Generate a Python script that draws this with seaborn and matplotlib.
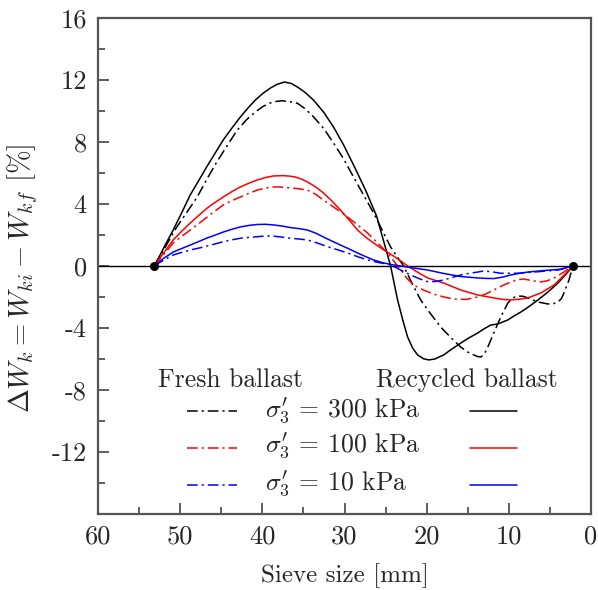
import numpy as np
import pandas as pd
import matplotlib
matplotlib.use("Agg")
import matplotlib.pyplot as plt
import seaborn as sns

# ---------------- data ----------------
rec300_x = [53.17, 52.5, 51.83, 50.85, 49.8, 48.78, 47.7, 46.71, 45.7, 44.76, 43.7, 42.68, 41.7, 40.85,
            39.9, 39.02, 38.2, 37.32, 36.5, 35.73, 34.8, 33.78, 32.5, 31.34, 30.1, 28.90, 27.44, 26.10,
            25.00, 24.39, 23.54, 22.9, 22.32, 21.7, 21.10, 20.4, 19.76, 19.0, 18.4, 17.93, 17.0, 15.85,
            14.8, 13.78, 13.0, 12.20, 11.34, 10.12, 9.3, 8.54, 7.5, 6.46, 5.2, 4.02, 3.0, 2.2]
rec300_y = [0.0, 0.65, 1.35, 2.32, 3.45, 4.58, 5.55, 6.45, 7.32, 8.13, 8.9, 9.61, 10.22, 10.71,
            11.15, 11.48, 11.72, 11.87, 11.78, 11.55, 11.2, 10.71, 9.9, 8.97, 7.8, 6.52, 4.90, 3.23,
            1.16, 0.0, -2.19, -3.5, -4.58, -5.3, -5.74, -5.98, -6.06, -6.0, -5.85, -5.74, -5.38, -4.97,
            -4.62, -4.32, -4.05, -3.81, -3.74, -3.48, -3.2, -2.97, -2.6, -2.19, -1.66, -1.10, -0.5, 0.0]

fre300_x = [53.17, 52.0, 50.49, 49.2, 47.93, 46.8, 45.61, 44.3, 43.05, 41.9, 40.85, 39.9, 39.02, 38.3,
            37.56, 36.6, 35.73, 34.8, 33.78, 32.5, 31.34, 30.1, 28.90, 27.7, 26.46, 25.4, 24.39, 23.6,
            22.80, 21.8, 20.73, 19.5, 18.29, 17.0, 15.85, 15.0, 14.27, 13.8, 13.41, 13.0, 12.56, 11.83,
            10.98, 10.12, 9.5, 8.90, 8.3, 7.68, 6.46, 5.24, 4.5, 4.02, 3.6, 3.29, 2.68, 2.2]
fre300_y = [0.0, 1.05, 2.45, 3.45, 4.45, 5.55, 6.65, 7.75, 8.77, 9.45, 9.94, 10.3, 10.52, 10.62,
            10.66, 10.6, 10.50, 10.15, 9.63, 8.85, 7.94, 6.9, 5.74, 4.6, 3.42, 2.3, 1.23, 0.6,
            0.0, -1.1, -2.19, -3.1, -3.94, -4.65, -5.23, -5.55, -5.74, -5.84, -5.87, -5.7, -5.23, -4.32,
            -3.29, -2.39, -2.05, -1.94, -1.95, -2.06, -2.32, -2.45, -2.42, -2.32, -2.1, -1.74, -0.90, 0.0]

rec100_x = [53.17, 52.0, 50.85, 49.8, 48.78, 47.7, 46.71, 45.7, 44.76, 43.7, 42.68, 41.6, 40.61, 39.6,
            38.66, 37.44, 36.7, 35.98, 35.2, 34.51, 33.5, 32.56, 31.5, 30.49, 29.4, 28.41, 27.4, 26.46,
            25.4, 24.39, 23.3, 22.32, 21.1, 19.88, 17.93, 15.85, 13.78, 11.83, 10.8, 9.76, 8.7, 7.68,
            6.10, 4.51, 3.3, 2.2]
rec100_y = [0.0, 0.85, 1.68, 2.25, 2.77, 3.28, 3.74, 4.12, 4.45, 4.8, 5.10, 5.35, 5.55, 5.71,
            5.81, 5.83, 5.8, 5.74, 5.6, 5.42, 5.1, 4.71, 4.18, 3.61, 2.95, 2.32, 1.85, 1.48,
            1.1, 0.77, 0.38, 0.0, -0.4, -0.77, -1.10, -1.55, -1.87, -2.06, -2.15, -2.19, -2.14, -2.06,
            -1.74, -1.23, -0.6, 0.0]

fre100_x = [53.17, 52.0, 50.85, 49.8, 48.78, 47.7, 46.71, 45.7, 44.76, 43.7, 42.68, 41.6, 40.61, 39.6,
            38.66, 37.9, 37.20, 35.8, 34.51, 33.5, 32.56, 31.1, 29.63, 28.4, 27.20, 26.0, 24.76, 23.9,
            23.17, 22.4, 21.59, 20.4, 19.15, 17.9, 16.71, 15.24, 13.78, 12.8, 11.83, 10.8, 9.76, 8.9,
            8.17, 7.1, 6.10, 5.3, 4.51, 3.29, 2.2]
fre100_y = [0.0, 0.75, 1.48, 1.92, 2.32, 2.75, 3.16, 3.57, 3.94, 4.22, 4.45, 4.7, 4.90, 5.03,
            5.10, 5.1, 5.06, 5.0, 4.90, 4.62, 4.26, 3.72, 3.16, 2.65, 2.13, 1.5, 0.84, 0.25,
            -0.26, -0.8, -1.23, -1.55, -1.81, -2.0, -2.13, -2.16, -2.00, -1.8, -1.55, -1.27, -1.03, -0.88,
            -0.84, -0.95, -1.03, -0.95, -0.77, -0.39, 0.0]

rec10_x = [53.17, 52.0, 50.85, 49.8, 48.78, 47.7, 46.71, 45.7, 44.76, 43.7, 42.68, 41.6, 40.61, 39.6,
           38.66, 37.6, 36.59, 35.5, 34.51, 33.5, 32.56, 31.5, 30.49, 29.4, 28.41, 27.4, 26.46, 25.4,
           24.39, 23.2, 21.95, 19.88, 17.93, 15.85, 13.78, 12.8, 11.83, 10.8, 9.76, 8.7, 7.68, 5.73,
           3.66, 2.2]
rec10_y = [0.0, 0.5, 0.90, 1.13, 1.35, 1.59, 1.81, 2.0, 2.19, 2.37, 2.52, 2.62, 2.68, 2.69,
           2.65, 2.58, 2.48, 2.41, 2.32, 2.12, 1.87, 1.6, 1.35, 1.09, 0.84, 0.6, 0.39, 0.22,
           0.10, 0.0, -0.10, -0.26, -0.48, -0.68, -0.77, -0.8, -0.81, -0.72, -0.58, -0.47, -0.39, -0.29,
           -0.21, 0.0]

fre10_x = [53.17, 52.0, 50.85, 49.8, 48.78, 47.7, 46.71, 45.7, 44.76, 43.7, 42.68, 41.6, 40.61, 39.8,
           39.02, 37.8, 36.59, 35.5, 34.51, 33.3, 32.07, 30.8, 29.63, 28.4, 27.20, 25.8, 24.39, 23.2,
           21.95, 20.9, 19.88, 18.9, 17.93, 16.9, 15.85, 14.8, 13.78, 13.05, 12.0, 10.98, 8.90, 6.46,
           4.02, 2.2]
fre10_y = [0.0, 0.38, 0.71, 0.88, 1.03, 1.16, 1.29, 1.43, 1.57, 1.69, 1.79, 1.85, 1.89, 1.93,
           1.94, 1.88, 1.79, 1.74, 1.68, 1.48, 1.25, 1.04, 0.84, 0.6, 0.39, 0.22, 0.08, -0.25,
           -0.58, -0.82, -1.01, -1.0, -0.90, -0.74, -0.58, -0.47, -0.39, -0.32, -0.38, -0.47, -0.47, -0.37,
           -0.26, 0.0]

end_x = [53.17, 2.2]
end_y = [0.0, 0.0]

pressures = ["300", "100", "10"]
colors = ["black", "red", "blue"]
x_ticks = [60, 50, 40, 30, 20, 10, 0]
y_ticks = [16, 12, 8, 4, 0, -4, -8, -12]

# ---------------- style ----------------
sns.set_style("ticks")
plt.rcParams["font.family"] = ["cmr10", "DejaVu Serif"]
plt.rcParams["mathtext.fontset"] = "cm"
plt.rcParams["axes.unicode_minus"] = False
plt.rcParams["axes.formatter.use_mathtext"] = True
plt.rcParams["lines.solid_joinstyle"] = "round"
plt.rcParams["lines.dash_joinstyle"] = "round"

fig = plt.figure(figsize=(5.98, 5.90), dpi=100)
ax = fig.add_axes([98 / 598, 76 / 590, 493 / 598, 496 / 590])

fresh = [(fre300_x, fre300_y), (fre100_x, fre100_y), (fre10_x, fre10_y)]
recyc = [(rec300_x, rec300_y), (rec100_x, rec100_y), (rec10_x, rec10_y)]
DASH = (7, 2.6, 1.4, 2.6)
LW = 1.1

ax.axhline(0, color="black", lw=1.0, zorder=1)
for (fx, fy), (rx, ry), c in zip(fresh, recyc, colors):
    sns.lineplot(x=fx, y=fy, ax=ax, color=c, lw=LW, sort=False, estimator=None, zorder=3)
    ax.lines[-1].set_dashes(DASH)
    sns.lineplot(x=rx, y=ry, ax=ax, color=c, lw=LW, sort=False, estimator=None, zorder=3)
sns.scatterplot(x=end_x, y=end_y, ax=ax, color="black", s=42, edgecolor="black",
                linewidth=0, zorder=5)

ax.set_xlim(60, 0)
ax.set_ylim(-16, 16)
ax.set_xticks(x_ticks)
ax.set_xticklabels([str(v) for v in x_ticks])
ax.set_xticks(np.arange(55, 0, -10), minor=True)
ax.set_yticks(y_ticks)
ax.set_yticklabels([str(v) for v in y_ticks])
ax.set_yticks(np.arange(-14, 16, 4), minor=True)
ax.tick_params(which="both", direction="in", top=False, right=False, labelsize=19,
               color="#333333", width=1.1, pad=8)
ax.tick_params(which="major", length=8)
ax.tick_params(which="minor", length=5)
for s in ax.spines.values():
    s.set_color("#555555")
    s.set_linewidth(1.6)

ax.set_xlabel("Sieve size [mm]", fontsize=18)
ax.set_ylabel(r"$\Delta W_k = W_{ki} - W_{kf}$ [%]", fontsize=20.5)
ax.xaxis.set_label_coords(0.5, -0.1)
ax.yaxis.set_label_coords(-0.117, 0.475)

# ---------------- legend (custom grid) ----------------
T = ax.transAxes
ax.text(0.268, 0.256, "Fresh ballast", transform=T, ha="center", va="baseline", fontsize=18.5)
ax.text(0.748, 0.256, "Recycled ballast", transform=T, ha="center", va="baseline", fontsize=18.5)
row_line_y = [0.2077, 0.1331, 0.0585]
row_text_y = [0.1956, 0.125, 0.0484]
for p, c, ly, ty in zip(pressures, colors, row_line_y, row_text_y):
    l, = ax.plot([0.180, 0.282], [ly, ly], transform=T, color=c, lw=LW)
    l.set_dashes(DASH)
    ax.plot([0.755, 0.850], [ly, ly], transform=T, color=c, lw=LW)
    ax.text(0.339, ty, r"$\sigma_3^{\prime}$ = " + p + " kPa", transform=T, ha="left",
            va="baseline", fontsize=18.5)

fig.savefig("out.png", dpi=100)
